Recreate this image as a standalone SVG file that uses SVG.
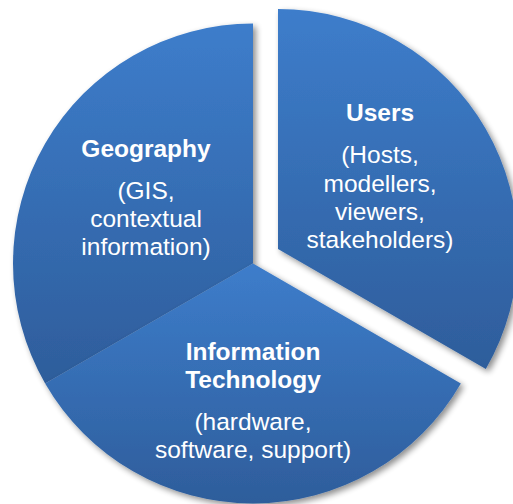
<svg xmlns="http://www.w3.org/2000/svg" width="513" height="504" viewBox="0 0 513 504">
  <style>
    .t { font-family: "Liberation Sans", Arial, sans-serif; font-size: 24.5px; fill: #ffffff; text-anchor: middle; }
    .b { font-weight: bold; }
    .slice { fill: url(#g); filter: url(#sh); }
  </style>
  <defs>
    <linearGradient id="g" x1="0" y1="0" x2="0" y2="1">
      <stop offset="0" stop-color="#3D7DCB"/>
      <stop offset="1" stop-color="#2E5D9B"/>
    </linearGradient>
    <filter id="sh" x="-10%" y="-10%" width="125%" height="125%">
      <feGaussianBlur in="SourceAlpha" stdDeviation="3"/>
      <feOffset dx="3" dy="3" result="o"/>
      <feComponentTransfer><feFuncA type="linear" slope="0.45"/></feComponentTransfer>
      <feMerge><feMergeNode/><feMergeNode in="SourceGraphic"/></feMerge>
    </filter>
  </defs>
  <rect width="513" height="504" fill="#ffffff"/>
  <g id="geography">
    <path class="slice" d="M253,263.5 L45.15,383.5 A240,240 0 0 1 253,23.5 Z"/>
    <text class="t b" x="146" y="157">Geography</text>
    <text class="t" x="146" y="199">(GIS,</text>
    <text class="t" x="146" y="227">contextual</text>
    <text class="t" x="146" y="255">information)</text>
  </g>
  <g id="it">
    <path class="slice" d="M253,263.5 L460.85,383.5 A240,240 0 0 1 45.15,383.5 Z"/>
    <text class="t b" x="253" y="360">Information</text>
    <text class="t b" x="253" y="388">Technology</text>
    <text class="t" x="253" y="430">(hardware,</text>
    <text class="t" x="253" y="458">software, support)</text>
  </g>
  <g id="users">
    <path class="slice" d="M278,249 L278,9 A240,240 0 0 1 485.85,369 Z"/>
    <text class="t b" x="380" y="121">Users</text>
    <text class="t" x="380" y="163">(Hosts,</text>
    <text class="t" x="380" y="192">modellers,</text>
    <text class="t" x="380" y="220">viewers,</text>
    <text class="t" x="380" y="248">stakeholders)</text>
  </g>
</svg>
